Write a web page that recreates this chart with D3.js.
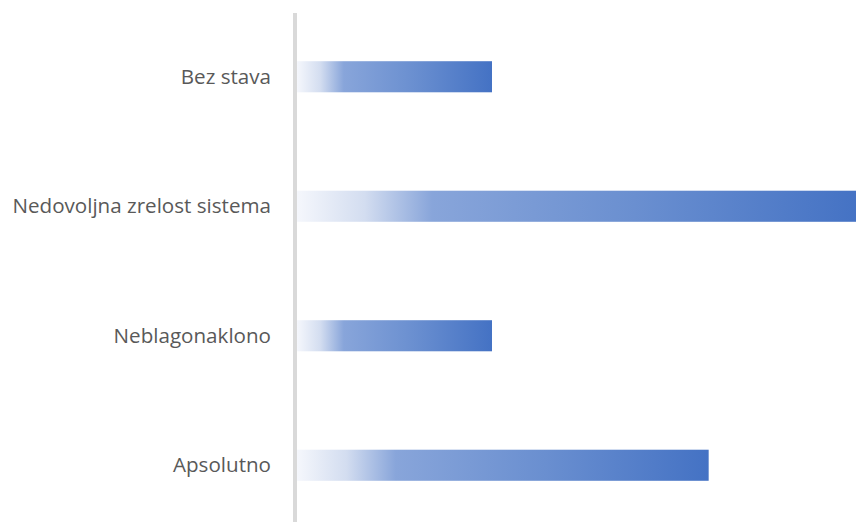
<!DOCTYPE html>
<html>
<head>
<meta charset="utf-8">
<script src="https://cdn.jsdelivr.net/npm/d3@7"></script>
<style>
  body { margin: 0; background: #fff; }
  svg { display: block; }
</style>
</head>
<body>
<div id="chart"></div>
<script>
var categories = ["Bez stava", "Nedovoljna zrelost sistema", "Neblagonaklono", "Apsolutno"];
var values = [9, 26, 9, 19];

var width = 856,
    height = 525;

var svg = d3.select("#chart")
  .append("svg")
  .attr("width", width)
  .attr("height", height);

// gradient like the office fill: pale at the axis, solid blue at the end
var defs = svg.append("defs");
var grad = defs.append("linearGradient")
  .attr("id", "barGrad")
  .attr("x1", "0%").attr("x2", "100%")
  .attr("y1", "0%").attr("y2", "0%");
grad.append("stop").attr("offset", "0%").attr("stop-color", "#f5f7fc");
grad.append("stop").attr("offset", "12%").attr("stop-color", "#d3ddf0");
grad.append("stop").attr("offset", "24%").attr("stop-color", "#88a5da");
grad.append("stop").attr("offset", "60%").attr("stop-color", "#6a8fd0");
grad.append("stop").attr("offset", "100%").attr("stop-color", "#4472c4");

// plot area runs a bit past the right edge, so the longest bar is clipped
var x = d3.scaleLinear()
  .domain([0, 25.8])
  .range([297, 856]);

var y = d3.scaleBand()
  .domain(categories)
  .range([12, 530])
  .paddingInner(0.76)
  .paddingOuter(0.38);

var data = categories.map(function(c, i){ return {cat: c, val: values[i]}; });

svg.selectAll("rect.bar")
  .data(data)
  .enter()
  .append("rect")
  .attr("class", "bar")
  .attr("x", x(0))
  .attr("y", function(d){ return y(d.cat); })
  .attr("width", function(d){ return x(d.val) - x(0); })
  .attr("height", y.bandwidth())
  .attr("fill", "url(#barGrad)");

// vertical category axis line
svg.append("line")
  .attr("x1", 295).attr("x2", 295)
  .attr("y1", 13).attr("y2", 522)
  .attr("stroke", "#d9d9d9")
  .attr("stroke-width", 4);

svg.selectAll("text.label")
  .data(data)
  .enter()
  .append("text")
  .attr("class", "label")
  .attr("x", 271)
  .attr("y", function(d){ return y(d.cat) + y.bandwidth() / 2; })
  .attr("dy", "0.35em")
  .attr("text-anchor", "end")
  .attr("font-family", "'Open Sans', sans-serif")
  .attr("font-size", "20.6px")
  .attr("fill", "#595959")
  .text(function(d){ return d.cat; });
</script>
</body>
</html>
